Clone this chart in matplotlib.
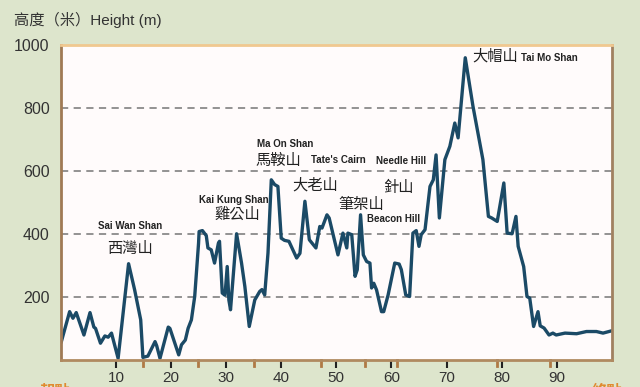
import matplotlib.pyplot as plt

plt.rcParams['font.family'] = ['Liberation Sans', 'Noto Sans CJK TC', 'DejaVu Sans']

# distance along trail (km) and height (m)
dist = [0.1, 1.6, 2.2, 2.8, 4.2, 5.3, 6.0, 6.3, 7.2, 8.0, 8.6, 9.2, 10.4,
        12.3, 13.4, 14.5, 14.9, 15.8, 17.1, 17.4, 18.0, 19.5, 19.8, 21.4,
        21.9, 22.6, 23.1, 23.7, 24.3, 25.0, 25.1, 25.7, 26.4, 26.7, 27.3,
        27.9, 28.6, 28.8, 29.3, 29.8, 30.2, 30.5, 30.8, 31.9, 32.8, 33.4,
        34.2, 35.2, 36.1, 36.5, 37.0, 37.6, 38.2, 38.8, 39.4, 40.0, 40.6,
        41.4, 42.8, 43.4, 44.3, 45.1, 46.3, 47.0, 47.4, 48.3, 48.7, 50.3,
        51.2, 51.9, 52.1, 52.8, 53.4, 53.8, 54.4, 54.9, 55.5, 56.1, 56.4,
        56.8, 57.3, 58.2, 58.6, 59.4, 60.6, 61.4, 61.8, 62.6, 63.3, 63.9,
        64.5, 65.0, 65.4, 66.1, 67.0, 67.6, 68.1, 68.7, 69.7, 70.6, 71.5,
        72.1, 73.4, 74.8, 76.6, 77.6, 78.2, 79.2, 80.4, 81.0, 81.9, 82.6,
        83.0, 84.0, 84.6, 85.1, 85.8, 86.6, 87.0, 87.7, 88.6, 89.3, 89.9,
        91.5, 93.6, 95.4, 97.2, 98.4, 99.9]
elev = [58, 153, 132, 150, 79, 150, 104, 100, 53, 76, 72, 85, 5,
        305, 222, 127, 8, 12, 58, 45, 5, 104, 100, 16,
        48, 63, 100, 127, 201, 370, 407, 410, 394, 355, 349,
        307, 370, 376, 212, 205, 296, 190, 159, 400, 307, 233,
        106, 190, 217, 223, 206, 339, 571, 556, 550, 386, 379,
        376, 323, 338, 503, 381, 355, 423, 418, 460, 450, 333,
        402, 355, 402, 397, 265, 286, 460, 333, 312, 307, 228,
        243, 222, 153, 153, 206, 307, 304, 286, 206, 201, 402,
        410, 360, 397, 413, 550, 571, 650, 450, 635, 677, 751,
        704, 958, 804, 635, 455, 450, 439, 561, 402, 400, 455,
        360, 296, 201, 196, 106, 153, 108, 101, 79, 85, 79,
        85, 83, 90, 90, 85, 92]

x_ticks = [10, 20, 30, 40, 50, 60, 70, 80, 90]
y_ticks = [200, 400, 600, 800, 1000]
stage_marks = [14.9, 24.9, 35.1, 47.3, 55.2, 61.1, 79.1, 88.7]

# peak labels: (x, y, text, is_english)
peak_labels = [
    (12.5, 425, 'Sai Wan Shan', True), (12.5, 352, '西灣山', False),
    (31.4, 508, 'Kai Kung Shan', True), (32.1, 462, '雞公山', False),
    (40.7, 683, 'Ma On Shan', True), (39.5, 633, '馬鞍山', False),
    (50.4, 633, "Tate's Cairn", True), (46.1, 556, '大老山', False),
    (54.5, 492, '筆架山', False), (60.3, 448, 'Beacon Hill', True),
    (61.8, 630, 'Needle Hill', True), (61.3, 546, '針山', False),
    (78.8, 963, '大帽山', False), (88.7, 956, 'Tai Mo Shan', True),
]

bg = '#dde5cc'
fig = plt.figure(figsize=(6.4, 3.87), dpi=100, facecolor=bg)
ax = fig.add_axes([0.095, 0.07, 0.861, 0.815])
ax.set_facecolor('#fffbfb')

ax.plot(dist, elev, color='#1b4a66', linewidth=2.4, solid_joinstyle='round')

ax.set_xlim(0, 100)
ax.set_ylim(0, 1000)
ax.set_xticks(x_ticks)
ax.set_yticks(y_ticks)
ax.tick_params(axis='x', length=6, width=1.5, color='#222222', labelsize=11, pad=2)
ax.tick_params(axis='y', length=0, labelsize=11.5, pad=8)
for lab in ax.get_xticklabels() + ax.get_yticklabels():
    lab.set_color('#333333')

for y in y_ticks[:-1]:
    ax.axhline(y, color='#8a8a8a', linestyle=(0, (4, 3)), linewidth=1.3, zorder=0)

for x in stage_marks:
    ax.plot([x, x], [0, -0.018], transform=ax.get_xaxis_transform(),
            color='#b07a45', linewidth=2, clip_on=False)

ax.spines['left'].set_color('#a07a55')
ax.spines['left'].set_linewidth(2)
ax.spines['bottom'].set_color('#b08a60')
ax.spines['bottom'].set_linewidth(2)
ax.spines['right'].set_color('#a08060')
ax.spines['right'].set_linewidth(2)
ax.spines['top'].set_color('#f0c890')
ax.spines['top'].set_linewidth(2)

for x, y, t, eng in peak_labels:
    if eng:
        ax.text(x, y, t, fontsize=7, fontweight='bold', color='#222222',
                ha='center', va='center')
    else:
        ax.text(x, y, t, fontsize=11, color='#222222',
                family=['Noto Sans CJK TC', 'DejaVu Sans'], ha='center', va='center')

fig.text(0.022, 0.948, '高度（米）Height (m)', fontsize=11, color='#333333',
         va='center', ha='left')
fig.text(0.062, -0.01, '起點', fontsize=11, color='#e08a30', fontweight='bold',
         family=['Noto Sans CJK TC'], va='center', ha='left')
fig.text(0.925, -0.01, '終點', fontsize=11, color='#e08a30', fontweight='bold',
         family=['Noto Sans CJK TC'], va='center', ha='left')

fig.savefig('out.png', dpi=100, facecolor=bg)
